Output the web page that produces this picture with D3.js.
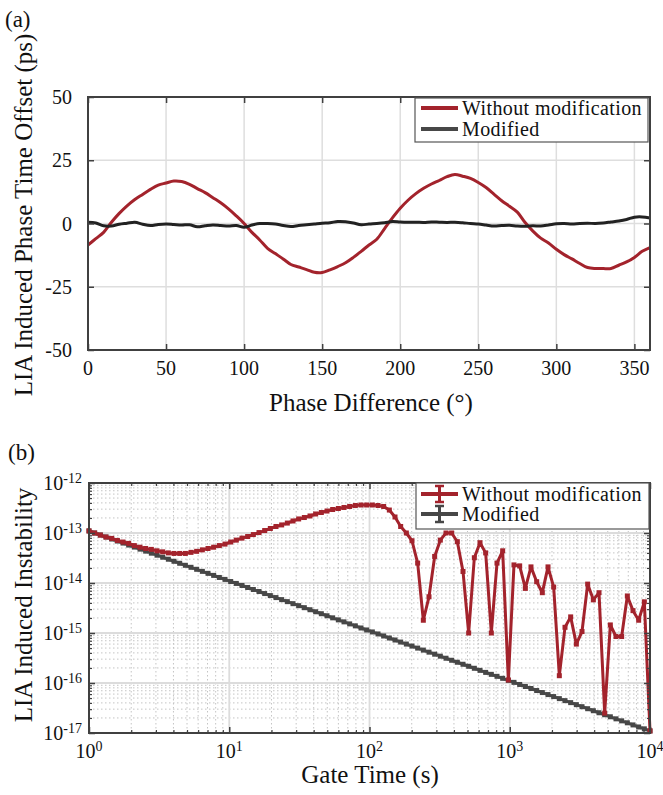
<!DOCTYPE html>
<html>
<head>
<meta charset="utf-8">
<script src="https://cdn.jsdelivr.net/npm/d3@7"></script>
<style>
body { margin: 0; background: #fff; }
svg text { font-family: "Liberation Serif", Tinos, "Times New Roman", "DejaVu Serif", serif; fill: #111; }
</style>
</head>
<body>
<div id="chart"></div>
<script>
// panel (a): phase difference in degrees, 5 degree steps
const phaseDeg = d3.range(0, 361, 5)
const offsetWithout = [-8.5, -6, -3.5, 0.5, 4, 7, 9.5, 11.5, 13.5, 15.2, 16, 16.8, 16.6, 15.5, 13.8, 12.2, 10.2, 8.2, 5.8, 3,
    0, -3.5, -6.5, -9.8, -11.9, -14, -16.2, -17.2, -18.2, -19.3, -19.4, -18.3, -17, -15.5, -13.4, -11, -8.5, -6.2, -2, 2.2,
    6, 9.2, 11.8, 13.9, 15.6, 17, 18.5, 19.4, 18.7, 17.8, 16.2, 14.2, 11.6, 9, 6.8, 4.5, 0.4, -3, -5.8, -7.7,
    -10.2, -12.3, -14, -15.8, -17.4, -17.8, -17.8, -17.8, -16.5, -15.2, -13.4, -11, -9.5]
const offsetModified = [0.5, 0.2, -0.9, -1.0, -0.3, 0.1, 0.5, -0.3, -0.8, -0.4, -0.2, -0.4, -0.6, -0.5, -1.3, -0.9, -0.6, -0.8, -1.0, -0.8,
    -1.5, -0.6, 0, 0, -0.2, -0.8, -1.2, -0.8, -0.5, -0.2, 0.1, 0.3, 0.8, 0.7, 0.2, -0.5, -0.2, 0, 0.3, 0.8,
    0.6, 0.5, 0.5, 0.4, 0.6, 0.5, 0.4, 0.5, 0.3, 0, -0.2, -0.6, -1.0, -0.8, -0.7, -1.0, -1.1, -0.9, -1.0, -0.6,
    -0.1, 0, -0.2, 0, 0.1, 0, 0.2, 0.6, 1.0, 1.6, 2.5, 2.6, 2.2]
const phaseTicks = [0, 50, 100, 150, 200, 250, 300, 350]
const offsetTicks = [-50, -25, 0, 25, 50]

// panel (b): gate times (s) and instabilities
const gateTime = [1, 1.097, 1.205, 1.322, 1.451, 1.592, 1.748, 1.918, 2.105, 2.310,
    2.535, 2.783, 3.054, 3.352, 3.679, 4.037, 4.431, 4.863, 5.337, 5.857,
    6.428, 7.055, 7.743, 8.498, 9.326, 10.24, 11.23, 12.33, 13.53, 14.85,
    16.30, 17.89, 19.63, 21.54, 23.65, 25.95, 28.48, 31.26, 34.30, 37.65,
    41.32, 45.35, 49.77, 54.62, 59.95, 65.79, 72.21, 79.25, 86.97, 95.45,
    104.8, 115.0, 126.2, 138.5, 152.0, 166.8, 183.1, 200.9, 220.5, 242.0,
    265.6, 291.5, 319.9, 351.1, 385.3, 422.9, 464.2, 509.4, 559.1, 613.6,
    673.4, 739.1, 811.1, 890.2, 977.0, 1072, 1177, 1292, 1417, 1556,
    1707, 1874, 2057, 2257, 2477, 2719, 2984, 3275, 3594, 3944,
    4329, 4751, 5214, 5722, 6280, 6893, 7565, 8302, 9112, 10000]
const instabWithout = [1.10e-13, 1.00e-13, 9.1e-14, 8.3e-14, 7.8e-14, 7.1e-14, 6.6e-14, 6.2e-14, 5.6e-14, 5.2e-14,
    4.9e-14, 4.7e-14, 4.4e-14, 4.2e-14, 4.0e-14, 3.9e-14, 3.9e-14, 3.9e-14, 4.1e-14, 4.3e-14,
    4.6e-14, 4.9e-14, 5.2e-14, 5.6e-14, 6.0e-14, 6.6e-14, 7.2e-14, 7.9e-14, 8.5e-14, 9.3e-14,
    1.02e-13, 1.12e-13, 1.23e-13, 1.35e-13, 1.45e-13, 1.58e-13, 1.74e-13, 1.91e-13, 2.04e-13, 2.19e-13,
    2.40e-13, 2.57e-13, 2.75e-13, 2.95e-13, 3.09e-13, 3.24e-13, 3.39e-13, 3.55e-13, 3.63e-13, 3.63e-13,
    3.63e-13, 3.55e-13, 3.39e-13, 2.88e-13, 2.09e-13, 1.35e-13, 1.0e-13, 7.0e-14, 2.5e-14, 1.8e-15,
    5.3e-15, 3.4e-14, 7.2e-14, 1.0e-13, 1.0e-13, 6.7e-14, 1.7e-14, 1.0e-15, 3.2e-14, 6.4e-14,
    4.0e-14, 1.0e-15, 2.5e-14, 4.4e-14, 1.15e-16, 2.3e-14, 2.2e-14, 7.8e-15, 2.1e-14, 1.06e-14,
    6.4e-15, 2.1e-14, 8.3e-15, 1.4e-16, 1.3e-15, 2.1e-15, 6.0e-16, 1.07e-15, 9.5e-15, 4.6e-15,
    6.4e-15, 2.5e-17, 1.45e-15, 8.5e-16, 8.5e-16, 5.5e-15, 2.8e-15, 1.8e-15, 4.2e-15, 1.1e-17]
const instabModified = [1.10e-13, 1.00e-13, 9.13e-14, 8.32e-14, 7.58e-14, 6.91e-14, 6.29e-14, 5.74e-14, 5.23e-14, 4.76e-14,
    4.34e-14, 3.95e-14, 3.60e-14, 3.28e-14, 2.99e-14, 2.72e-14, 2.48e-14, 2.26e-14, 2.06e-14, 1.88e-14,
    1.71e-14, 1.56e-14, 1.42e-14, 1.29e-14, 1.18e-14, 1.07e-14, 9.80e-15, 8.92e-15, 8.13e-15, 7.41e-15,
    6.75e-15, 6.15e-15, 5.60e-15, 5.11e-15, 4.65e-15, 4.24e-15, 3.86e-15, 3.52e-15, 3.21e-15, 2.92e-15,
    2.66e-15, 2.43e-15, 2.21e-15, 2.01e-15, 1.83e-15, 1.67e-15, 1.52e-15, 1.39e-15, 1.26e-15, 1.15e-15,
    1.05e-15, 9.57e-16, 8.72e-16, 7.94e-16, 7.24e-16, 6.59e-16, 6.01e-16, 5.48e-16, 4.99e-16, 4.55e-16,
    4.14e-16, 3.77e-16, 3.44e-16, 3.13e-16, 2.85e-16, 2.60e-16, 2.37e-16, 2.16e-16, 1.97e-16, 1.79e-16,
    1.63e-16, 1.49e-16, 1.36e-16, 1.24e-16, 1.13e-16, 1.03e-16, 9.35e-17, 8.51e-17, 7.76e-17, 7.07e-17,
    6.44e-17, 5.87e-17, 5.35e-17, 4.87e-17, 4.44e-17, 4.05e-17, 3.69e-17, 3.36e-17, 3.06e-17, 2.79e-17,
    2.54e-17, 2.32e-17, 2.11e-17, 1.92e-17, 1.75e-17, 1.60e-17, 1.45e-17, 1.32e-17, 1.21e-17, 1.10e-17]
const gateTicks = [1, 10, 100, 1000, 10000]
const instabTicks = [1e-17, 1e-16, 1e-15, 1e-14, 1e-13, 1e-12]
const seriesNames = ["Without modification", "Modified"]

const RED = "#a3232c"
const DARK = "#222"
const GRAY = "#474747"
const FRAME = "#404040"
const SERIF = "Liberation Serif, Tinos, Times New Roman, DejaVu Serif, serif"

const svg = d3.select("#chart").append("svg")
    .attr("width", 663)
    .attr("height", 795)
    .attr("font-family", SERIF)
    .style("font-family", SERIF)

function frameAxes(g, x, y, xTicks, yTicks, xMinor, yMinor) {
    // four-sided inward ticks, no labels
    const x0 = x.range()[0], x1 = x.range()[1]
    const y0 = y.range()[1], y1 = y.range()[0]
    const sides = [
        [d3.axisBottom(x), xTicks, xMinor, `translate(0,${y1})`],
        [d3.axisTop(x), xTicks, xMinor, `translate(0,${y0})`],
        [d3.axisLeft(y), yTicks, yMinor, `translate(${x0},0)`],
        [d3.axisRight(y), yTicks, yMinor, `translate(${x1},0)`]
    ]
    sides.forEach(([ax, major, minor, tr]) => {
        g.append("g").attr("transform", tr).style("color", FRAME)
            .call(ax.tickValues(major).tickSizeInner(-6).tickSizeOuter(0).tickFormat(() => ""))
            .call(s => s.select(".domain").remove())
            .selectAll("line").attr("stroke-width", 1.5)
        if (minor.length) {
            g.append("g").attr("transform", tr).style("color", FRAME)
                .call(ax.tickValues(minor).tickSizeInner(-3).tickSizeOuter(0).tickFormat(() => ""))
                .call(s => s.select(".domain").remove())
                .selectAll("line").attr("stroke-width", 1.2)
        }
    })
    g.append("rect")
        .attr("x", x0).attr("y", y0)
        .attr("width", x1 - x0).attr("height", y1 - y0)
        .attr("fill", "none").attr("stroke", FRAME).attr("stroke-width", 2)
}

function supLabel(sel, exp) {
    sel.text(null)
    sel.append("tspan").text("10")
    sel.append("tspan").attr("dy", "-0.5em").attr("font-size", 14).text(exp)
}

// ---------------- panel (a) ----------------
const xa = d3.scaleLinear().domain([0, 360]).range([88, 650])
const ya = d3.scaleLinear().domain([-50, 50]).range([350, 97])
const ga = svg.append("g")

ga.append("g").selectAll("line").data(phaseTicks.filter(d => d > 0)).enter().append("line")
    .attr("x1", d => xa(d)).attr("x2", d => xa(d))
    .attr("y1", ya(50)).attr("y2", ya(-50))
    .attr("stroke", "#dedede").attr("stroke-width", 1.5)
ga.append("g").selectAll("line").data(offsetTicks).enter().append("line")
    .attr("x1", xa(0)).attr("x2", xa(360))
    .attr("y1", d => ya(d)).attr("y2", d => ya(d))
    .attr("stroke", "#dedede").attr("stroke-width", 1.5)

let lineA = d3.line().x((d, i) => xa(phaseDeg[i])).y(d => ya(d)).curve(d3.curveCatmullRom)
ga.append("path").datum(offsetWithout).attr("d", lineA)
    .attr("fill", "none").attr("stroke", RED).attr("stroke-width", 3).attr("stroke-linejoin", "round")
ga.append("path").datum(offsetModified).attr("d", lineA)
    .attr("fill", "none").attr("stroke", DARK).attr("stroke-width", 3).attr("stroke-linejoin", "round")

frameAxes(ga, xa, ya, phaseTicks, offsetTicks, [], [])

// tick labels
ga.append("g").selectAll("text").data(phaseTicks).enter().append("text")
    .attr("x", d => xa(d)).attr("y", 375)
    .attr("text-anchor", "middle").attr("font-size", 20)
    .text(d => d)
ga.append("g").selectAll("text").data(offsetTicks).enter().append("text")
    .attr("x", 72).attr("y", d => ya(d) + 7)
    .attr("text-anchor", "end").attr("font-size", 20)
    .text(d => d)

ga.append("text").attr("x", 371).attr("y", 411).attr("text-anchor", "middle")
    .attr("font-size", 25).text("Phase Difference (\u00b0)")
ga.append("text").attr("transform", "translate(32,215) rotate(-90)").attr("text-anchor", "middle")
    .attr("font-size", 25).text("LIA Induced Phase Time Offset (ps)")
ga.append("text").attr("x", 5).attr("y", 27).attr("font-size", 23).text("(a)")

// legend (a)
const legA = ga.append("g")
legA.append("rect").attr("x", 415).attr("y", 98).attr("width", 233).attr("height", 44)
    .attr("fill", "#fff").attr("stroke", "#555").attr("stroke-width", 1.2)
seriesNames.forEach((name, i) => {
    const cy = 108 + i * 21
    legA.append("line").attr("x1", 421).attr("x2", 458).attr("y1", cy).attr("y2", cy)
        .attr("stroke", i ? GRAY : RED).attr("stroke-width", 4)
    legA.append("text").attr("x", 462).attr("y", cy + 7).attr("font-size", 20)
        .attr("letter-spacing", 0.4).text(name)
})

// ---------------- panel (b) ----------------
const xb = d3.scaleLog().domain([1, 1e4]).range([89, 650])
const yb = d3.scaleLog().domain([1e-17, 1e-12]).range([733, 483])
const gb = svg.append("g")

const gateMinor = [], instabMinor = []
gateTicks.slice(0, -1).forEach(p => { for (let m = 2; m < 10; m++) gateMinor.push(p * m) })
instabTicks.slice(0, -1).forEach(p => { for (let m = 2; m < 10; m++) instabMinor.push(p * m) })

gb.append("g").selectAll("line").data(gateMinor).enter().append("line")
    .attr("x1", d => xb(d)).attr("x2", d => xb(d))
    .attr("y1", yb(1e-12)).attr("y2", yb(1e-17))
    .attr("stroke", "#c4c4c4").attr("stroke-width", 1).attr("stroke-dasharray", "1.5,2.5")
gb.append("g").selectAll("line").data(instabMinor).enter().append("line")
    .attr("x1", xb(1)).attr("x2", xb(1e4))
    .attr("y1", d => yb(d)).attr("y2", d => yb(d))
    .attr("stroke", "#c4c4c4").attr("stroke-width", 1).attr("stroke-dasharray", "1.5,2.5")
gb.append("g").selectAll("line").data(gateTicks).enter().append("line")
    .attr("x1", d => xb(d)).attr("x2", d => xb(d))
    .attr("y1", yb(1e-12)).attr("y2", yb(1e-17))
    .attr("stroke", "#dcdcdc").attr("stroke-width", 1.8)
gb.append("g").selectAll("line").data(instabTicks).enter().append("line")
    .attr("x1", xb(1)).attr("x2", xb(1e4))
    .attr("y1", d => yb(d)).attr("y2", d => yb(d))
    .attr("stroke", "#dcdcdc").attr("stroke-width", 1.8)

let lineB = d3.line().x((d, i) => xb(gateTime[i])).y(d => yb(d))
function drawSeries(vals, color) {
    gb.append("path").datum(vals).attr("d", lineB)
        .attr("fill", "none").attr("stroke", color).attr("stroke-width", 3).attr("stroke-linejoin", "round")
    gb.append("g").selectAll("rect").data(vals).enter().append("rect")
        .attr("x", (d, i) => xb(gateTime[i]) - 2.5).attr("y", d => yb(d) - 2.5)
        .attr("width", 5).attr("height", 5).attr("fill", color)
}
drawSeries(instabModified, GRAY)
drawSeries(instabWithout, RED)

frameAxes(gb, xb, yb, gateTicks, instabTicks, gateMinor, instabMinor)

gb.append("g").selectAll("text").data(gateTicks).enter().append("text")
    .attr("x", d => xb(d)).attr("y", 758)
    .attr("text-anchor", "middle").attr("font-size", 20)
    .each(function (d) { supLabel(d3.select(this), Math.round(Math.log10(d))) })
gb.append("g").selectAll("text").data(instabTicks).enter().append("text")
    .attr("x", 82).attr("y", d => yb(d) + 7)
    .attr("text-anchor", "end").attr("font-size", 20)
    .each(function (d) { supLabel(d3.select(this), Math.round(Math.log10(d))) })

gb.append("text").attr("x", 370).attr("y", 783).attr("text-anchor", "middle")
    .attr("font-size", 25).text("Gate Time (s)")
gb.append("text").attr("transform", "translate(32,605) rotate(-90)").attr("text-anchor", "middle")
    .attr("font-size", 25).text("LIA Induced Instability")
gb.append("text").attr("x", 8).attr("y", 460).attr("font-size", 23).text("(b)")

// legend (b) with error-bar glyphs
const legB = gb.append("g")
legB.append("rect").attr("x", 416).attr("y", 483).attr("width", 233).attr("height", 46)
    .attr("fill", "#fff").attr("stroke", "#555").attr("stroke-width", 1.2)
seriesNames.forEach((name, i) => {
    const cy = 494 + i * 20
    const c = i ? GRAY : RED
    legB.append("line").attr("x1", 421).attr("x2", 458).attr("y1", cy).attr("y2", cy)
        .attr("stroke", c).attr("stroke-width", 4)
    legB.append("line").attr("x1", 439.5).attr("x2", 439.5).attr("y1", cy - 8).attr("y2", cy + 8)
        .attr("stroke", c).attr("stroke-width", 3)
    ;[cy - 8, cy + 8].forEach(yy => legB.append("line")
        .attr("x1", 435).attr("x2", 444).attr("y1", yy).attr("y2", yy)
        .attr("stroke", c).attr("stroke-width", 2.5))
    legB.append("text").attr("x", 462).attr("y", cy + 7).attr("font-size", 20)
        .attr("letter-spacing", 0.4).text(name)
})
</script>
</body>
</html>
